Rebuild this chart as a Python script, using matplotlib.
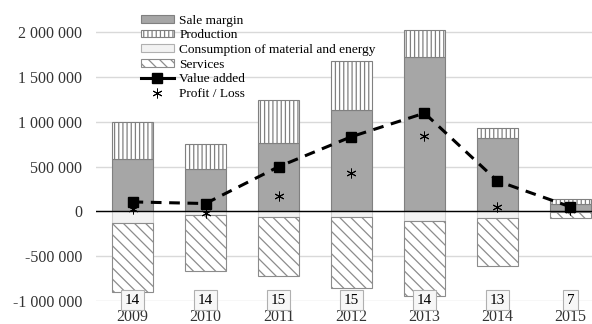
import matplotlib
matplotlib.use("Agg")
import matplotlib.pyplot as plt
from matplotlib.patches import Patch
from matplotlib.lines import Line2D
import numpy as np

years = ["2009", "2010", "2011", "2012", "2013", "2014", "2015"]
sale_margin = [583000, 471000, 769000, 1134000, 1726000, 822000, 89000]
production = [420000, 280000, 479000, 547000, 299000, 115000, 56000]
consumption = [-128000, -38000, -67000, -67000, -101000, -72000, -3000]
services = [-773000, -628000, -650000, -785000, -841000, -533000, -75000]
value_added = [107000, 89000, 500000, 836000, 1099000, 340000, 52000]
profit_loss = [33000, -22000, 171000, 426000, 849000, 52000, 15000]
counts = [14, 14, 15, 15, 14, 13, 7]
yticks = [-1000000, -500000, 0, 500000, 1000000, 1500000, 2000000]

plt.rcParams['font.family'] = ['Liberation Serif', 'DejaVu Serif']
plt.rcParams['hatch.linewidth'] = 0.9

W, H = 592, 324
fig = plt.figure(figsize=(W / 100, H / 100), dpi=100)
left_px, right_px = 96, 607
bot_px, top_px = 301, 0
ax = fig.add_axes([left_px / W, (H - bot_px) / H, (right_px - left_px) / W, (bot_px - top_px) / H])

x = np.arange(len(years))
bw = 0.56
edge = "#808080"

ax.bar(x, sale_margin, bw, color="#a6a6a6", edgecolor=edge, linewidth=0.8, zorder=2)
ax.bar(x, production, bw, bottom=sale_margin, color="white", edgecolor=edge,
       hatch="||||", linewidth=0.8, zorder=2)
ax.bar(x, consumption, bw, color="#f2f2f2", edgecolor="#d0d0d0", linewidth=0.8, zorder=2)
ax.bar(x, services, bw, bottom=consumption, color="white", edgecolor="#8c8c8c",
       hatch="\\\\\\", linewidth=0.8, zorder=2)

ax.plot(x, value_added, color="black", lw=2.2, linestyle=(0, (3.5, 2.5)),
        marker="s", markersize=7.5, zorder=4)
ax.plot(x, profit_loss, linestyle="none", marker=(6, 2, 0), markersize=7,
        markeredgewidth=0.7, color="black", zorder=5)

ax.axhline(0, color="black", lw=1, zorder=3)

for xi, c in zip(x, counts):
    ax.text(xi, -990000, str(c), ha="center", va="center", fontsize=11,
            bbox=dict(boxstyle="square,pad=0.25", facecolor="#f7f7f7", edgecolor="#b0b0b0", lw=0.8),
            zorder=6, clip_on=False)

ax.set_xlim(-0.5, 6.5)
ax.set_ylim(-1000000, 2363000)
ax.set_yticks(yticks)
ax.set_yticklabels([f"{v:,.0f}".replace(",", " ") for v in yticks], fontsize=11.5, color="#333333")
ax.set_xticks(x)
ax.set_xticklabels(years, fontsize=11.5, color="#333333")
ax.tick_params(axis="both", length=0)
ax.tick_params(axis="y", pad=10)
ax.tick_params(axis="x", pad=6)
ax.grid(axis="y", color="#d9d9d9", lw=1, zorder=0)
ax.set_axisbelow(True)
for s in ax.spines.values():
    s.set_visible(False)

handles = [
    Patch(facecolor="#a6a6a6", edgecolor=edge, linewidth=0.8, label="Sale margin"),
    Patch(facecolor="white", edgecolor=edge, hatch="||||", linewidth=0.8, label="Production"),
    Patch(facecolor="#f2f2f2", edgecolor="#b0b0b0", linewidth=0.8, label="Consumption of material and energy"),
    Patch(facecolor="white", edgecolor="#8c8c8c", hatch="\\\\\\", linewidth=0.8, label="Services"),
    Line2D([], [], color="black", lw=2.2, marker="s", markersize=7.5, label="Value added"),
    Line2D([], [], color="black", linestyle="none", marker=(6, 2, 0), markersize=7,
           markeredgewidth=0.7, label="Profit / Loss"),
]
fig.legend(handles=handles, loc="upper left", bbox_to_anchor=(138 / W, 1 - 12 / H),
           frameon=False, fontsize=9.6, handlelength=2.5, handleheight=0.5,
           handletextpad=0.4, labelspacing=0.2, borderpad=0.2, borderaxespad=0)

fig.savefig("out.png", dpi=100)
